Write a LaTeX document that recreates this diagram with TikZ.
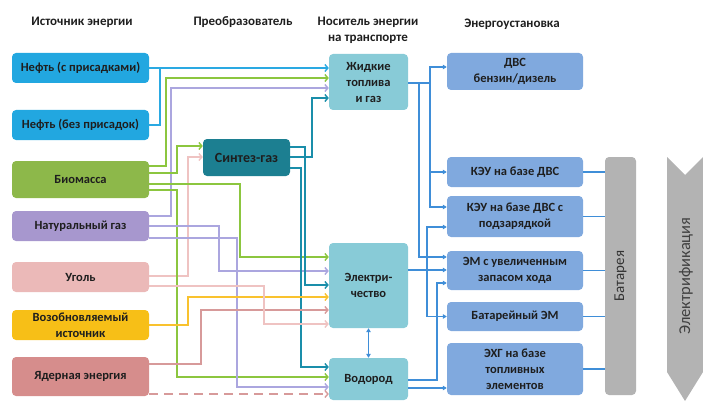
\documentclass[tikz,border=0pt]{standalone}
\usepackage{fontspec}
\setmainfont{Carlito}
\usetikzlibrary{arrows.meta,calc}
\definecolor{cNef}{HTML}{22A7E0}
\definecolor{cBio}{HTML}{8DB84A}
\definecolor{cGas}{HTML}{A797CE}
\definecolor{cCoal}{HTML}{EBB9B8}
\definecolor{cRen}{HTML}{F7BF17}
\definecolor{cNuc}{HTML}{D68D8C}
\definecolor{cSyn}{HTML}{1C7F91}
\definecolor{cCar}{HTML}{88CBD7}
\definecolor{cIns}{HTML}{80A9DE}
\definecolor{cBat}{HTML}{B3B3B3}
\definecolor{lNef}{HTML}{2AA9E2}
\definecolor{lBio}{HTML}{8CC63F}
\definecolor{lGas}{HTML}{ABA6DF}
\definecolor{lCoal}{HTML}{EFC3C2}
\definecolor{lRen}{HTML}{F9C22E}
\definecolor{lNuc}{HTML}{D79A9A}
\definecolor{lSyn}{HTML}{1A8EAA}
\definecolor{lIns}{HTML}{3F8ED8}
\definecolor{txt}{HTML}{1E1E1E}
\begin{document}
\begin{tikzpicture}[x=1pt,y=-1pt,
  box/.style={rounded corners=4pt,inner sep=0pt,align=center,text=txt,
    font=\fontsize{12.5}{16}\selectfont\bfseries},
  hdr/.style={align=center,text=txt,font=\fontsize{13}{16}\selectfont\bfseries},
  ln/.style={line width=1.4pt},
  arr/.style={ln,-{Straight Barb[length=3pt,width=7pt]}},
  bln/.style={line width=1.4pt,draw=lIns},
  barr/.style={bln,-{Triangle[length=4pt,width=4.5pt]}}]
\useasboundingbox (0,0) rectangle (703,401);
% headers
\node[hdr] (h1) at (82,22) {Источник энергии};
\node[hdr] (h2) at (243,22) {Преобразователь};
\node[hdr] (h3) at (368,30) {Носитель энергии\\на транспорте};
\node[hdr] (h4) at (512,24) {Энергоустановка};
% sources
\node[box,fill=cNef,minimum width=137pt,minimum height=30pt] (nef1) at (80.5,68) {Нефть (с присадками)};
\node[box,fill=cNef,minimum width=137pt,minimum height=30pt] (nef2) at (80.5,125) {Нефть (без присадок)};
\node[box,fill=cBio,minimum width=137pt,minimum height=37pt] (bio) at (80.5,179.5) {Биомасса};
\node[box,fill=cGas,minimum width=137pt,minimum height=30pt] (gas) at (80.5,226) {Натуральный газ};
\node[box,fill=cCoal,minimum width=137pt,minimum height=30pt] (coal) at (80.5,277) {Уголь};
\node[box,fill=cRen,minimum width=137pt,minimum height=30pt] (ren) at (80.5,325) {Возобновляемый\\источник};
\node[box,fill=cNuc,minimum width=137pt,minimum height=39pt] (nuc) at (80.5,376.5) {Ядерная энергия};
% converter
\node[box,fill=cSyn,minimum width=87pt,minimum height=37pt,font=\fontsize{14}{16}\selectfont\bfseries] (syn) at (246.5,157.5) {Синтез-газ};
% carriers
\node[box,fill=cCar,minimum width=79pt,minimum height=56pt] (liq) at (368.5,82) {Жидкие\\топлива\\и газ};
\node[box,fill=cCar,minimum width=79pt,minimum height=85pt] (ele) at (368.5,285.5) {Электри-\\чество};
\node[box,fill=cCar,minimum width=79pt,minimum height=42pt] (hyd) at (368.5,379) {Водород};
% installations
\node[box,fill=cIns,minimum width=136pt,minimum height=37pt] (dvs) at (515,71.5) {ДВС\\бензин/дизель};
\node[box,fill=cIns,minimum width=136pt,minimum height=30pt] (keu) at (515,172) {КЭУ на базе ДВС};
\node[box,fill=cIns,minimum width=136pt,minimum height=41pt] (keup) at (515,216.5) {КЭУ на базе ДВС с\\подзарядкой};
\node[box,fill=cIns,minimum width=136pt,minimum height=39pt] (em) at (515,270.5) {ЭМ с увеличенным\\запасом хода};
\node[box,fill=cIns,minimum width=136pt,minimum height=29pt] (bem) at (515,316.5) {Батарейный ЭМ};
\node[box,fill=cIns,minimum width=136pt,minimum height=52pt] (ehg) at (515,369) {ЭХГ на базе\\топливных\\элементов};
% battery
\node[box,fill=cBat,minimum width=31pt,minimum height=238pt,font=\fontsize{15}{16}\selectfont,text=black!80] (bat) at (620.5,276) {\rotatebox{90}{Батарея}};
% electrification chevron
\fill[cBat] (667,157) -- (685,175) -- (703,157) -- (703,372) -- (685,401) -- (667,372) -- cycle;
\node[font=\fontsize{16.5}{18}\selectfont,text=black!75,rotate=90] (elf) at (686,276) {Электрификация};
% ---- left connectors
\draw[arr,lNef] (nef1.east) -- (liq.west |- 0,68);
\draw[ln,lNef] (nef2.east) -| (160,68);
\draw[arr,lBio] (bio.east |- 0,166) -| (166,78) -- (liq.west |- 0,78);
\draw[arr,lGas] (gas.east |- 0,216) -| (171,88) -- (liq.west |- 0,88);
\draw[arr,lSyn] (syn.east |- 0,157) -| (312,98) -- (liq.west |- 0,98);
\draw[arr,lBio] (bio.east |- 0,173) -| (177,146) -- (syn.west |- 0,146);
\draw[arr,lCoal] (coal.east |- 0,276) -| (188,157) -- (syn.west |- 0,157);
\draw[arr,lBio] (bio.east |- 0,184) -| (240,257) -- (ele.west |- 0,257);
\draw[arr,lBio] (bio.east |- 0,190) -| (177,377) -- (hyd.west |- 0,377);
\draw[arr,lGas] (gas.east |- 0,226) -| (219,271) -- (ele.west |- 0,271);
\draw[arr,lGas] (gas.east |- 0,238) -| (237,387) -- (hyd.west |- 0,387);
\draw[arr,lSyn] (syn.east |- 0,147) -| (305,285) -- (ele.west |- 0,285);
\draw[arr,lSyn] (syn.east |- 0,168) -| (301,367) -- (hyd.west |- 0,367);
\draw[arr,lRen] (ren.east) -| (188,297) -- (ele.west |- 0,297);
\draw[arr,lNuc] (nuc.east |- 0,364) -| (201,310) -- (ele.west |- 0,310);
\draw[arr,lCoal] (coal.east |- 0,286) -| (264,324) -- (ele.west |- 0,324);
\draw[arr,lNuc,dash pattern=on 9pt off 6pt] (nuc.east |- 0,394) -- (hyd.west |- 0,394);
\draw[bln,{Triangle[length=4pt,width=4.5pt]}-{Triangle[length=4pt,width=4.5pt]}] (ele.south) -- (hyd.north);
% ---- right connectors
\draw[bln] (liq.east |- 0,83) -- (430,83);
\draw[barr] (430,83) |- (dvs.west |- 0,67);
\draw[barr] (430,83) |- (keu.west);
\draw[barr] (430,83) |- (keup.west |- 0,207);
\draw[barr] (419,83) |- (em.west |- 0,257);
\draw[barr] (ele.east |- 0,270) -- (em.west |- 0,270);
\draw[barr] (427,270) |- (keup.west |- 0,227);
\draw[barr] (427,270) |- (bem.west);
\draw[barr] (hyd.east |- 0,380) -| (437,283) -- (em.west |- 0,283);
\draw[barr] (hyd.east |- 0,388) -- (ehg.west |- 0,388);
\draw[bln] (keu.east) -- (bat.west |- keu.east);
\draw[bln] (keup.east) -- (bat.west |- keup.east);
\draw[bln] (em.east) -- (bat.west |- em.east);
\draw[bln] (bem.east) -- (bat.west |- bem.east);
\draw[bln] (ehg.east) -- (bat.west |- ehg.east);
\end{tikzpicture}
\end{document}
